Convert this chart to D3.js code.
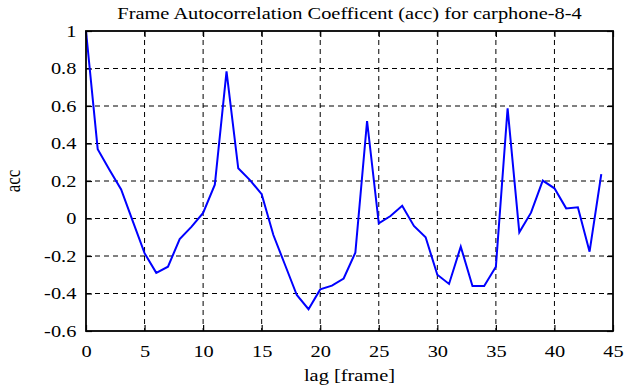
<!DOCTYPE html>
<html>
<head>
<meta charset="utf-8">
<script src="https://cdn.jsdelivr.net/npm/d3@7"></script>
<style>
  body { margin: 0; background: #fff; }
  svg text { font-family: "Liberation Serif", "Times New Roman", serif; fill: #000; }
</style>
</head>
<body>
<div id="chart"></div>
<script>
var title = "Frame Autocorrelation Coefficent (acc) for carphone-8-4"
var xLabel = "lag [frame]"
var yLabel = "acc"

var lags = d3.range(0, 45)
var acc = [1.0, 0.37, 0.26, 0.155, -0.015, -0.185, -0.29, -0.257, -0.11, -0.045,
    0.03, 0.18, 0.785, 0.268, 0.205, 0.13, -0.088, -0.248, -0.408, -0.484,
    -0.378, -0.358, -0.32, -0.182, 0.52, -0.026, 0.013, 0.068, -0.04, -0.1,
    -0.3, -0.349, -0.15, -0.36, -0.36, -0.257, 0.588, -0.074, 0.031, 0.202,
    0.161, 0.054, 0.06, -0.177, 0.237]

var xTicks = [0, 5, 10, 15, 20, 25, 30, 35, 40, 45]
var yTicks = [-0.6, -0.4, -0.2, 0, 0.2, 0.4, 0.6, 0.8, 1]

var width = 635
var height = 387
var margin = { left: 86, right: 22, top: 31, bottom: 56 }
var stretch = 1.2   // the original's lettering is wider than plain Times

var svg = d3.select("#chart")
    .append("svg")
    .attr("width", width)
    .attr("height", height)

var x = d3.scaleLinear().domain([0, 45]).range([margin.left, width - margin.right])
var y = d3.scaleLinear().domain([-0.6, 1]).range([height - margin.bottom, margin.top])

// grid
svg.append("g")
    .selectAll("line")
    .data(xTicks.slice(1, -1))
    .join("line")
    .attr("x1", d => x(d)).attr("x2", d => x(d))
    .attr("y1", y(1)).attr("y2", y(-0.6))
    .attr("stroke", "#000")
    .attr("stroke-width", 1)
    .attr("stroke-dasharray", "5,4")

svg.append("g")
    .selectAll("line")
    .data(yTicks.slice(1, -1))
    .join("line")
    .attr("x1", x(0)).attr("x2", x(45))
    .attr("y1", d => y(d)).attr("y2", d => y(d))
    .attr("stroke", "#000")
    .attr("stroke-width", 1)
    .attr("stroke-dasharray", "5,4")

// inward ticks on all four sides
var bottomAxis = d3.axisBottom(x).tickValues(xTicks).tickSize(-6).tickPadding(14).tickFormat(d => d)
var topAxis = d3.axisTop(x).tickValues(xTicks).tickSize(-6).tickFormat("")
var leftAxis = d3.axisLeft(y).tickValues(yTicks).tickSize(-6).tickPadding(8).tickFormat(d => d)
var rightAxis = d3.axisRight(y).tickValues(yTicks).tickSize(-6).tickFormat("")

function styleAxis(g) {
    g.attr("font-family", "Liberation Serif, serif").attr("font-size", 17)
    g.select(".domain").remove()
    g.selectAll(".tick line").attr("stroke", "#000").attr("stroke-width", 1.2)
    g.selectAll(".tick text").attr("fill", "#000")
        .attr("transform", `scale(${stretch},1)`)
}

svg.append("g").attr("transform", `translate(0,${y(-0.6)})`).call(bottomAxis).call(styleAxis)
svg.append("g").attr("transform", `translate(0,${y(1)})`).call(topAxis).call(styleAxis)
svg.append("g").attr("transform", `translate(${x(0)},0)`).call(leftAxis).call(styleAxis)
svg.append("g").attr("transform", `translate(${x(45)},0)`).call(rightAxis).call(styleAxis)

// data line
var line = d3.line()
    .x((d, i) => x(lags[i]))
    .y(d => y(d))

svg.append("path")
    .datum(acc)
    .attr("fill", "none")
    .attr("stroke", "#0000ff")
    .attr("stroke-width", 2)
    .attr("d", line)

// frame
svg.append("rect")
    .attr("x", x(0)).attr("y", y(1))
    .attr("width", x(45) - x(0)).attr("height", y(-0.6) - y(1))
    .attr("fill", "none")
    .attr("stroke", "#000")
    .attr("stroke-width", 1.8)

// labels
svg.append("text")
    .attr("transform", `translate(${(x(0) + x(45)) / 2},19) scale(${stretch},1)`)
    .attr("text-anchor", "middle")
    .attr("font-size", 17)
    .text(title)

svg.append("text")
    .attr("transform", `translate(${(x(0) + x(45)) / 2},381) scale(${stretch},1)`)
    .attr("text-anchor", "middle")
    .attr("font-size", 17)
    .text(xLabel)

svg.append("text")
    .attr("transform", `translate(20,${(y(1) + y(-0.6)) / 2}) rotate(-90) scale(1,${stretch})`)
    .attr("text-anchor", "middle")
    .attr("font-size", 17)
    .text(yLabel)
</script>
</body>
</html>
